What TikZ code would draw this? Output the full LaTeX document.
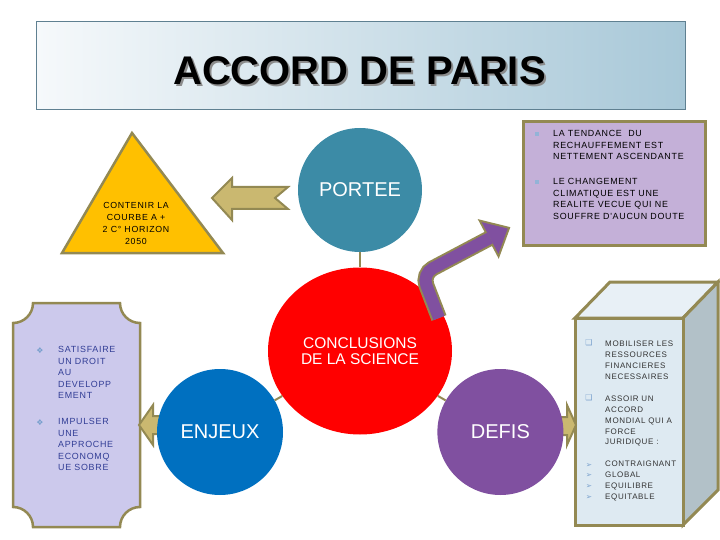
\documentclass[tikz,border=0pt]{standalone}
\usepackage{fontspec}
\setmainfont{Liberation Sans}
\newfontfamily\spaced[LetterSpace=8]{Liberation Sans}
\newfontfamily\symbfont{DejaVu Sans}
\usetikzlibrary{shapes.geometric, positioning}

\definecolor{olivebrd}{RGB}{147,137,83}
\definecolor{arrowtan}{RGB}{202,184,112}
\definecolor{titleleft}{RGB}{246,249,251}
\definecolor{titleright}{RGB}{168,200,216}
\definecolor{titlebrd}{RGB}{95,128,145}
\definecolor{porteeteal}{RGB}{60,139,166}
\definecolor{enjeublue}{RGB}{0,112,192}
\definecolor{defispurple}{RGB}{128,80,160}
\definecolor{goalamber}{RGB}{255,192,0}
\definecolor{factlilac}{RGB}{196,176,216}
\definecolor{needlilac}{RGB}{204,201,236}
\definecolor{cubefront}{RGB}{222,234,242}
\definecolor{cubetop}{RGB}{232,240,246}
\definecolor{cubeside}{RGB}{178,193,200}
\definecolor{needtext}{RGB}{50,62,150}
\definecolor{bulletblue}{RGB}{120,160,205}

\tikzset{
  x=1pt, y=-1pt,
  node distance=154pt,
  border/.style={draw=olivebrd, line width=2.5pt, line join=miter},
  bubble/.style={circle, minimum size=126pt, inner sep=0pt, text=white,
    font=\fontsize{20}{22}\selectfont},
  blockarrow/.style={fill=arrowtan, draw=olivebrd, line width=2pt, line join=miter},
  link/.style={draw=olivebrd, line width=2pt},
  listtext/.style={font=\spaced\fontsize{8.9}{11.6}\selectfont, align=left,
    anchor=north west, inner sep=0pt},
  bullet/.style={font=\symbfont\fontsize{8}{8}\selectfont, inner sep=0pt},
}

\begin{document}
\begin{tikzpicture}
	\useasboundingbox (0,0) rectangle (720,540);

	% title
	\node[draw=titlebrd, line width=1pt, left color=titleleft, right color=titleright,
		minimum width=649pt, minimum height=88pt] (title) at (360.5,66) {};
	\node[font=\bfseries\fontsize{40}{40}\selectfont] (titletext) at (359.5,71.5)
		{\rlap{\kern2pt\raisebox{-2pt}{\color{black!45}ACCORD DE PARIS}}ACCORD DE PARIS};

	% boxes
	\draw[border, fill=goalamber] (132,133) -- (223,253) -- (62,253) -- cycle;
	\node[border, line width=3pt, fill=factlilac, minimum width=182pt, minimum height=123pt] (facts) at (614,183.5) {};
	\draw[border, fill=needlilac] (33,303) -- (120,303) arc[start angle=180, end angle=90, radius=20]
		-- (140,507) arc[start angle=270, end angle=180, radius=20]
		-- (33,527) arc[start angle=0, end angle=-90, radius=20]
		-- (13,323) arc[start angle=90, end angle=0, radius=20] -- cycle;
	\draw[border, line width=3pt, fill=cubetop] (575,318) -- (610,282) -- (718,282) -- (683,318) -- cycle;
	\draw[border, line width=3pt, fill=cubeside] (683,318) -- (718,282) -- (718,490) -- (683,525) -- cycle;
	\draw[border, line width=3pt, fill=cubefront] (575,318) rectangle (683,525);

	% block arrows
	\draw[blockarrow] (212,198) -- (232,178) -- (232,187) -- (288,187) -- (275,198)
		-- (288,209) -- (232,209) -- (232,220) -- cycle;
	\draw[blockarrow] (139,425) -- (153,405) -- (153,416) -- (166,416) -- (166,434)
		-- (153,434) -- (153,445) -- cycle;
	\draw[blockarrow] (552,417) -- (567,417) -- (567,405) -- (576,425) -- (567,445)
		-- (567,435) -- (552,435) -- cycle;

	% circles
	\node[bubble, fill=porteeteal, minimum size=124pt] (portee) at (360,190) {PORTEE};
	\node[ellipse, fill=red, text=white, minimum width=184pt, minimum height=167pt, inner sep=0pt,
		align=center, font=\fontsize{15.5}{16}\selectfont] (science) at (360,351) {CONCLUSIONS\\DE LA SCIENCE};
	\node[bubble, fill=enjeublue] (enjeux) at (220,432) {ENJEUX};
	\node[bubble, fill=defispurple, right=of enjeux] (defis) {DEFIS};

	% links
	\draw[link] (portee) -- (science);
	\draw[link] (science) -- (enjeux);
	\draw[link] (science) -- (defis);

	% curved arrow
	\coordinate (tail) at (439,318);
	\coordinate (bend) at (422,274);
	\coordinate (head) at (490,238);
	\draw[olivebrd, line width=16pt, rounded corners=12pt] (tail) -- (bend) -- (head);
	\draw[olivebrd, fill=olivebrd, line width=4pt, line join=miter] (481.6,222.1) -- (507.7,228.6) -- (498.4,253.9) -- cycle;
	\draw[defispurple, line width=12pt, rounded corners=12pt] (tail) -- (bend) -- (head);
	\fill[defispurple] (481.6,222.1) -- (507.7,228.6) -- (498.4,253.9) -- cycle;

	% texts
	\node[font=\spaced\fontsize{8.8}{12}\selectfont, align=center] (goal) at (136,223)
		{CONTENIR LA\\COURBE A +\\2 C° HORIZON\\2050};

	\fill[bulletblue!80] (535,132) rectangle (539,136);
	\fill[bulletblue!80] (535,180) rectangle (539,184);
	\node[listtext] (fact1) at (553,130) {LA TENDANCE\ \ DU\\RECHAUFFEMENT EST\\NETTEMENT ASCENDANTE};
	\node[listtext] (fact2) at (553,178) {LE CHANGEMENT\\CLIMATIQUE EST UNE\\REALITE VECUE QUI NE\\SOUFFRE D'AUCUN DOUTE};

	\node[bullet, text=bulletblue] at (40,351) {❖};
	\node[bullet, text=bulletblue] at (40,423) {❖};
	\node[listtext, text=needtext] (need1) at (58,346) {SATISFAIRE\\UN DROIT\\AU\\DEVELOPP\\EMENT};
	\node[listtext, text=needtext] (need2) at (58,418) {IMPULSER\\UNE\\APPROCHE\\ECONOMQ\\UE SOBRE};

	\node[bullet, text=bulletblue] at (589,343) {❑};
	\node[bullet, text=bulletblue] at (589,398) {❑};
	\node[listtext, text=black!80, font=\spaced\fontsize{8}{10.8}\selectfont] (task1) at (605,341)
		{MOBILISER LES\\RESSOURCES\\FINANCIERES\\NECESSAIRES};
	\node[listtext, text=black!80, font=\spaced\fontsize{8}{10.8}\selectfont] (task2) at (605,396)
		{ASSOIR UN\\ACCORD\\MONDIAL QUI A\\FORCE\\JURIDIQUE :};
	\foreach \y in {465,475.8,486.6,497.4}
		\node[bullet, text=bulletblue, font=\symbfont\fontsize{7.5}{7.5}\selectfont] at (589,\y) {➢};
	\node[listtext, text=black!80, font=\spaced\fontsize{8}{10.8}\selectfont] (task3) at (605,461)
		{CONTRAIGNANT\\GLOBAL\\EQUILIBRE\\EQUITABLE};
\end{tikzpicture}
\end{document}
